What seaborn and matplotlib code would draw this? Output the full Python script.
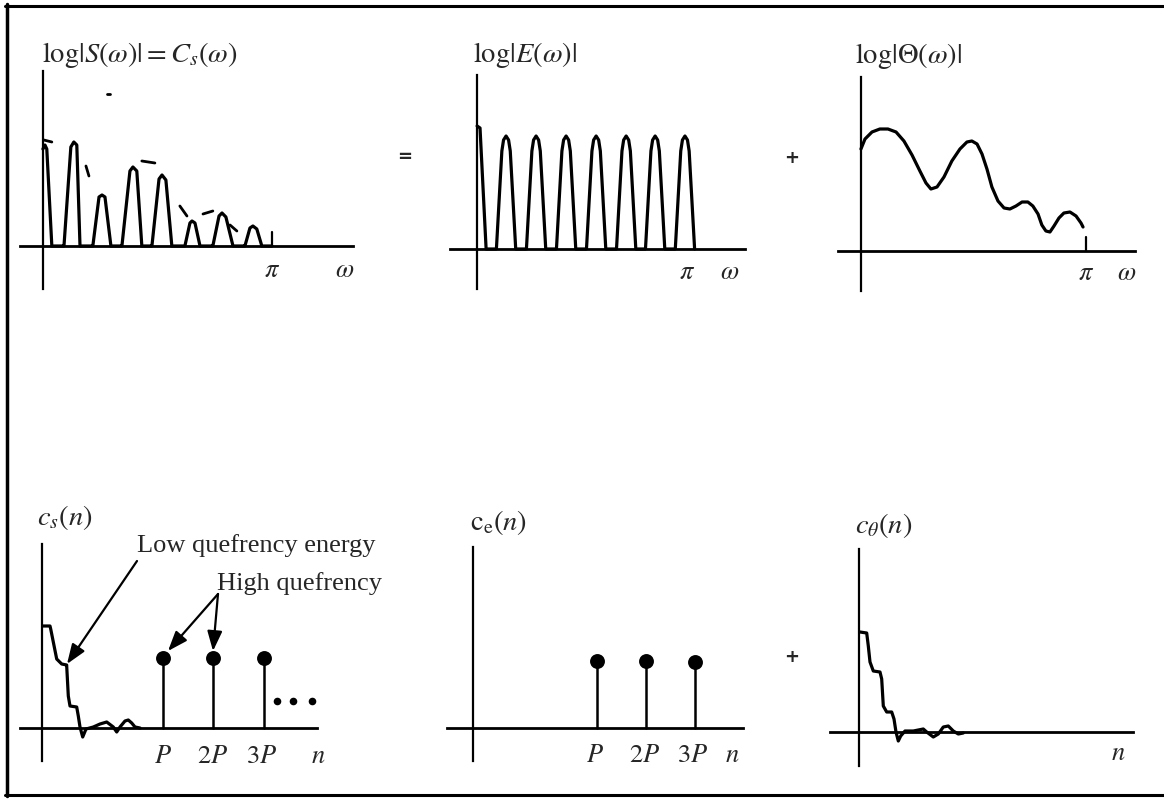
import numpy as np
import pandas as pd
import matplotlib
matplotlib.use("Agg")
import matplotlib.pyplot as plt
import seaborn as sns
from matplotlib.lines import Line2D

sns.set_theme(style="white")
plt.rcParams["font.family"] = ["Liberation Serif", "DejaVu Serif"]
plt.rcParams["mathtext.fontset"] = "stix"

# ---------------- data ----------------
# Panel 1: log|S(w)| (x in units of pi)
s_x = [0, 0.009, 0.017, 0.039, 0.052, 0.083,
       0.092, 0.122, 0.135, 0.148, 0.162, 0.175, 0.210,
       0.218, 0.245, 0.258, 0.271, 0.297, 0.310, 0.341,
       0.345, 0.380, 0.393, 0.410, 0.432, 0.445, 0.472,
       0.476, 0.507, 0.520, 0.537, 0.563, 0.576, 0.611,
       0.620, 0.642, 0.651, 0.664, 0.686, 0.699, 0.734,
       0.742, 0.769, 0.782, 0.799, 0.830, 0.843, 0.878,
       0.882, 0.904, 0.917, 0.934, 0.956, 0.969, 1.0]
s_y = [0.97, 1.01, 0.97, 0.0, 0.0, 0.0,
       0.0, 0.99, 1.04, 1.01, 0.0, 0.0, 0.0,
       0.0, 0.49, 0.51, 0.49, 0.0, 0.0, 0.0,
       0.0, 0.75, 0.79, 0.75, 0.0, 0.0, 0.0,
       0.0, 0.67, 0.71, 0.66, 0.0, 0.0, 0.0,
       0.0, 0.23, 0.25, 0.23, 0.0, 0.0, 0.0,
       0.0, 0.30, 0.33, 0.29, 0.0, 0.0, 0.0,
       0.0, 0.18, 0.20, 0.17, 0.0, 0.0, 0.0]
env_seg = [0, 0, 1, 1, 2, 2, 3, 3, 4, 4, 5, 5, 6, 6]
env_x = [0.004, 0.039, 0.188, 0.201, 0.432, 0.489, 0.598, 0.629,
         0.699, 0.742, 0.817, 0.847, 0.279, 0.293]
env_y = [1.06, 1.04, 0.80, 0.70, 0.85, 0.83, 0.40, 0.30,
         0.32, 0.35, 0.21, 0.15, 1.52, 1.52]

# Panel 2: log|E(w)|
e_x = [0, 0.014, 0.043,
       0.092, 0.118, 0.126, 0.138, 0.150, 0.158, 0.184,
       0.235, 0.261, 0.269, 0.281, 0.293, 0.301, 0.327,
       0.378, 0.404, 0.412, 0.424, 0.436, 0.444, 0.470,
       0.521, 0.547, 0.555, 0.567, 0.579, 0.587, 0.613,
       0.664, 0.690, 0.698, 0.710, 0.722, 0.730, 0.756,
       0.802, 0.828, 0.836, 0.848, 0.860, 0.868, 0.894,
       0.944, 0.970, 0.978, 0.990, 1.002, 1.010, 1.036]
e_y = [1.23, 1.21, 0.0,
       0.0, 0.98, 1.09, 1.13, 1.09, 0.98, 0.0,
       0.0, 0.98, 1.09, 1.13, 1.09, 0.98, 0.0,
       0.0, 0.98, 1.09, 1.13, 1.09, 0.98, 0.0,
       0.0, 0.98, 1.09, 1.13, 1.09, 0.98, 0.0,
       0.0, 0.98, 1.09, 1.13, 1.09, 0.98, 0.0,
       0.0, 0.98, 1.09, 1.13, 1.09, 0.98, 0.0,
       0.0, 0.98, 1.09, 1.13, 1.09, 0.98, 0.0]

# Panel 3: log|Theta(w)|
t_x = [0, 0.018, 0.049, 0.084, 0.120, 0.156, 0.191, 0.227, 0.262, 0.289,
       0.311, 0.338, 0.369, 0.404, 0.440, 0.471, 0.493, 0.516, 0.538, 0.560,
       0.582, 0.609, 0.636, 0.662, 0.689, 0.716, 0.742, 0.764, 0.787, 0.804,
       0.822, 0.840, 0.858, 0.880, 0.902, 0.929, 0.956, 0.978, 0.987]
t_y = [1.02, 1.12, 1.19, 1.22, 1.22, 1.19, 1.10, 0.96, 0.80, 0.68,
       0.62, 0.64, 0.74, 0.90, 1.02, 1.09, 1.10, 1.07, 0.97, 0.82,
       0.64, 0.50, 0.43, 0.42, 0.45, 0.49, 0.49, 0.45, 0.37, 0.26,
       0.20, 0.19, 0.25, 0.33, 0.38, 0.39, 0.35, 0.28, 0.24]

# Panel 4: c_s(n)
cs_x = [0.007, 0.08, 0.087, 0.147, 0.197, 0.247, 0.247, 0.263, 0.28, 0.347,
        0.363, 0.38, 0.407, 0.44, 0.513, 0.58, 0.647, 0.713, 0.747, 0.78,
        0.83, 0.863, 0.897, 0.93, 0.98]
cs_y = [1.02, 1.02, 0.99, 0.69, 0.64, 0.63, 0.62, 0.32, 0.22, 0.21,
        0.12, 0.01, -0.09, -0.01, 0.01, 0.04, 0.06, 0.01, -0.04, 0.01,
        0.07, 0.08, 0.05, 0.01, 0.0]
cs_stem_x = [1.21, 1.71, 2.22]
cs_stem_y = [0.70, 0.70, 0.70]
dots_x = [2.35, 2.51, 2.70]
dots_y = [0.27, 0.27, 0.27]

# Panel 5: c_e(n)
ce_stem_x = [1.24, 1.73, 2.22]
ce_stem_y = [0.67, 0.67, 0.66]

# Panel 6: c_theta(n)
ct_x = [0.01, 0.077, 0.093, 0.11, 0.143, 0.21, 0.227, 0.243, 0.277, 0.327,
        0.35, 0.37, 0.393, 0.417, 0.46, 0.543, 0.643, 0.677, 0.743, 0.793,
        0.843, 0.893, 0.943, 0.993, 1.043]
ct_y = [1.00, 0.99, 0.86, 0.70, 0.61, 0.60, 0.53, 0.26, 0.20, 0.20,
        0.13, 0.0, -0.09, -0.04, 0.01, 0.01, 0.03, 0.0, -0.05, -0.02,
        0.05, 0.06, 0.01, -0.02, -0.01]

omega_labels = [r"$\pi$", r"$\omega$"]
n_labels = [r"$P$", r"$2P$", r"$3P$", r"$n$"]

# ---------------- figure ----------------
W, H = 1164, 804
fig = plt.figure(figsize=(W / 100, H / 100), dpi=100)
fig.patch.set_facecolor("white")

LW = 2.3
FS = 19
TFS = 20.5


def make_ax(x0, x1, y0, y1):
    return fig.add_axes([x0 / W, 1 - y1 / H, (x1 - x0) / W, (y1 - y0) / H])


def finish(ax, xlim, ylim):
    ax.set_xlim(*xlim)
    ax.set_ylim(*ylim)
    ax.patch.set_alpha(0)
    ax.grid(False)
    for s in ["top", "right"]:
        ax.spines[s].set_visible(False)
    ax.spines["left"].set_position(("data", 0))
    ax.spines["bottom"].set_position(("data", 0))
    ax.spines["left"].set_linewidth(1.6)
    ax.spines["bottom"].set_linewidth(2.0)
    for s in ["left", "bottom"]:
        ax.spines[s].set_color("black")
    ax.set_xticks([])
    ax.set_yticks([])
    ax.set_xlabel("")
    ax.set_ylabel("")
    if ax.get_legend() is not None:
        ax.get_legend().remove()


def curve(ax, x, y, lw=LW, **kw):
    sns.lineplot(x=x, y=y, ax=ax, sort=False, estimator=None, color="black",
                 lw=lw, solid_capstyle="round", solid_joinstyle="round", **kw)


def stems(ax, xs, ys, size=115):
    df = pd.DataFrame({"x": [v for v in xs for _ in range(2)],
                       "y": [v for h in ys for v in (0.0, h)],
                       "u": [i for i in range(len(xs)) for _ in range(2)]})
    sns.lineplot(data=df, x="x", y="y", units="u", estimator=None, sort=False,
                 color="black", lw=1.8, ax=ax)
    sns.scatterplot(x=xs, y=ys, ax=ax, color="black", s=size, edgecolor="black",
                    linewidth=0, zorder=5, clip_on=False)


# Panel 1
ax1 = make_ax(20, 353, 72, 290)
curve(ax1, s_x, s_y)
env = pd.DataFrame({"x": env_x, "y": env_y, "u": env_seg})
sns.lineplot(data=env, x="x", y="y", units="u", estimator=None, sort=False,
             color="black", lw=2.0, ax=ax1)
curve(ax1, [1.0, 1.0], [0.0, 0.14], lw=1.6)
finish(ax1, (-0.100, 1.354), (-0.43, 1.75))
ax1.text(-0.004, 1.85, r"$\log|S(\omega)| = C_s(\omega)$", fontsize=TFS,
         ha="left", va="baseline")
ax1.text(1.0, -0.30, omega_labels[0], fontsize=FS, ha="center", va="baseline")
ax1.text(1.319, -0.30, omega_labels[1], fontsize=FS, ha="center", va="baseline",
         clip_on=False)

# Panel 2
ax2 = make_ax(450, 745, 76, 290)
curve(ax2, e_x, e_y)
finish(ax2, (-0.129, 1.276), (-0.40, 1.74))
ax2.text(-0.019, 1.88, r"$\log|E(\omega)|$", fontsize=TFS, ha="left",
         va="baseline")
ax2.text(1.0, -0.29, omega_labels[0], fontsize=FS, ha="center", va="baseline")
ax2.text(1.205, -0.29, omega_labels[1], fontsize=FS, ha="center", va="baseline")

# Panel 3
ax3 = make_ax(838, 1135, 78, 292)
curve(ax3, t_x, t_y)
curve(ax3, [1.0, 1.0], [0.0, 0.14], lw=1.6)
finish(ax3, (-0.102, 1.218), (-0.40, 1.74))
ax3.text(-0.027, 1.89, r"$\log|\Theta(\omega)|$", fontsize=TFS, ha="left",
         va="baseline")
ax3.text(1.0, -0.28, omega_labels[0], fontsize=FS, ha="center", va="baseline")
ax3.text(1.182, -0.28, omega_labels[1], fontsize=FS, ha="center", va="baseline")

# Panel 4
ax4 = make_ax(20, 317, 545, 762)
curve(ax4, cs_x, cs_y)
stems(ax4, cs_stem_x, cs_stem_y)
sns.scatterplot(x=dots_x, y=dots_y, ax=ax4, color="black", s=30, linewidth=0,
                clip_on=False)
finish(ax4, (-0.22, 2.75), (-0.33, 1.84))
ax4.text(-0.05, 2.04, r"$c_s(n)$", fontsize=TFS, ha="left", va="baseline")
for lab, xv in zip(n_labels, [1.21, 1.71, 2.20, 2.76]):
    ax4.text(xv, -0.34, lab, fontsize=FS, ha="center", va="baseline")
ax4.text(0.95, 1.77, "Low quefrency energy", fontsize=FS, ha="left",
         va="baseline")
ax4.text(1.75, 1.39, "High quefrency", fontsize=FS, ha="left", va="baseline")
arrow = dict(arrowstyle="-|>,head_length=0.8,head_width=0.3", color="black",
             lw=1.6, mutation_scale=15, shrinkA=0, shrinkB=0)
ax4.annotate("", xy=(0.25, 0.64), xytext=(0.95, 1.67), arrowprops=arrow,
             annotation_clip=False)
ax4.annotate("", xy=(1.26, 0.77), xytext=(1.76, 1.34), arrowprops=arrow,
             annotation_clip=False)
ax4.annotate("", xy=(1.71, 0.77), xytext=(1.76, 1.34), arrowprops=arrow,
             annotation_clip=False)

# Panel 5
ax5 = make_ax(447, 743, 548, 762)
stems(ax5, ce_stem_x, ce_stem_y)
finish(ax5, (-0.26, 2.70), (-0.33, 1.81))
ax5.text(-0.03, 1.99, r"$\mathrm{c}_\mathrm{e}(n)$", fontsize=TFS, ha="left",
         va="baseline")
for lab, xv in zip(n_labels, [1.22, 1.72, 2.20, 2.59]):
    ax5.text(xv, -0.33, lab, fontsize=FS, ha="center", va="baseline")

# Panel 6
ax6 = make_ax(830, 1133, 550, 767)
curve(ax6, ct_x, ct_y)
finish(ax6, (-0.29, 2.74), (-0.34, 1.83))
ax6.text(-0.04, 2.00, r"$c_\theta(n)$", fontsize=TFS, ha="left", va="baseline")
ax6.text(2.59, -0.27, n_labels[3], fontsize=FS, ha="center", va="baseline")

# operators
fig.text(405 / W, 1 - 157 / H, "=", fontsize=13, fontweight="bold",
         ha="center", va="center", family="DejaVu Sans")
fig.text(792 / W, 1 - 158 / H, "+", fontsize=13, fontweight="bold",
         ha="center", va="center", family="DejaVu Sans")
fig.text(792 / W, 1 - 657 / H, "+", fontsize=13, fontweight="bold",
         ha="center", va="center", family="DejaVu Sans")

# frame
fig.add_artist(Line2D([7 / W, 7 / W], [1 - 5 / H, 1 - 797 / H],
                      transform=fig.transFigure, color="black", lw=2.5))
fig.add_artist(Line2D([5 / W, 1164 / W], [1 - 7 / H, 1 - 7 / H],
                      transform=fig.transFigure, color="black", lw=2.2))
fig.add_artist(Line2D([5 / W, 1164 / W], [1 - 796 / H, 1 - 796 / H],
                      transform=fig.transFigure, color="black", lw=2.2))

fig.savefig("out.png", dpi=100, facecolor="white")
